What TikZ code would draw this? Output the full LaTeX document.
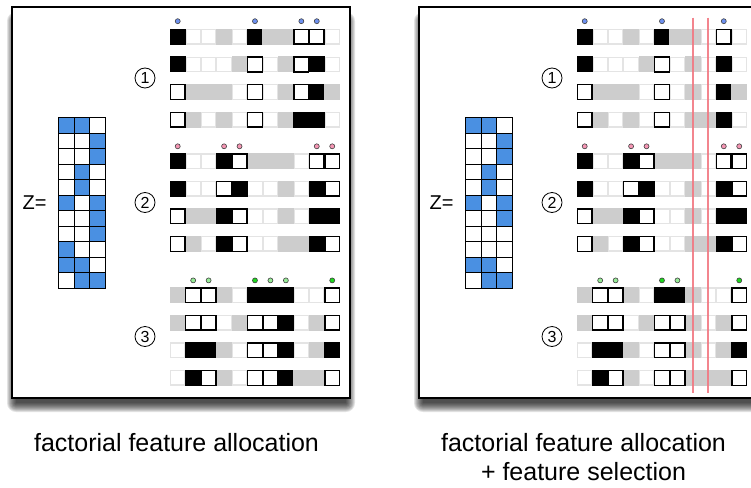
\documentclass[tikz,border=0pt]{standalone}
\usepackage{fontspec}
\setmainfont{Liberation Sans}
\definecolor{zblue}{RGB}{74,144,226}
\definecolor{dblue}{RGB}{110,145,240}
\definecolor{dpink}{RGB}{245,150,180}
\definecolor{dlgreen}{RGB}{150,235,150}
\definecolor{dgreen}{RGB}{30,215,30}
\definecolor{redline}{RGB}{242,120,130}
\definecolor{offgray}{RGB}{205,205,205}
\definecolor{offbg}{RGB}{228,228,228}
\tikzset{
 cbase/.style={rectangle, inner sep=0pt, outer sep=0pt, minimum width=16pt, minimum height=16pt},
 cellK/.style={cbase, fill=black},
 cellg/.style={cbase, fill=offgray},
 cello/.style={cbase, fill=white, minimum width=13.2pt, minimum height=13.2pt},
 cellW/.style={cbase, fill=white, draw=black, line width=1.4pt, minimum width=14.8pt, minimum height=14.8pt},
 zcell/.style={rectangle, inner sep=0pt, outer sep=0pt, minimum width=15.8pt, minimum height=15.5pt, draw=black, line width=1.1pt},
 z1/.style={zcell, fill=zblue},
 z0/.style={zcell, fill=white},
 dot/.style={circle, inner sep=0pt, minimum size=5pt, draw=black!75, line width=0.6pt},
 numc/.style={circle, draw=black, line width=0.8pt, minimum size=20pt, inner sep=0pt, font=\fontsize{16}{16}\selectfont},
 ztext/.style={inner sep=0pt, font=\fontsize{20}{20}\selectfont},
 captxt/.style={inner sep=0pt, font=\fontsize{25}{29}\selectfont},
 frame/.style={draw=black, line width=1.5pt, fill=white},
 redsel/.style={draw=redline, line width=2pt, opacity=0.9},
}
% #1 prefix, #2 x0, #3 y centre, #4 codes
\newcommand\featrow[4]{%
  \fill[offbg] (#2,#3-7.9) rectangle (#2+169.95,#3+7.9);
  \foreach \c [count=\i from 0] in {#4}{%
    \if W\c\else
      \node[cell\c] (#1-\i) at ({#2+7.725+15.45*\i},#3) {};
    \fi}%
  \foreach \c [count=\i from 0] in {#4}{%
    \if W\c
      \node[cellW] (#1-\i) at ({#2+7.725+15.45*\i},#3) {};
    \fi}%
}
% #1 prefix, #2 x0, #3 rows
\newcommand\zmat[3]{%
  \foreach \ra/\rb/\rc [count=\r from 0] in {#3}{%
    \node[z\ra] (#1-\r-0) at ({#2+7.9},{125.45+15.5*\r}) {};
    \node[z\rb] (#1-\r-1) at ({#2+23.7},{125.45+15.5*\r}) {};
    \node[z\rc] (#1-\r-2) at ({#2+39.5},{125.45+15.5*\r}) {};
  }%
}
% #1 prefix, #2 x0, #3 y, #4 col/colour list
\newcommand\featdots[4]{%
  \foreach \k/\col in {#4}{%
    \node[dot, fill=\col] (#1-\k) at ({#2+7.725+15.45*\k},#3) {};
  }%
}
\newcommand\shadowbox[4]{%
  \foreach \k in {0,...,9}{%
    \fill[black, opacity=0.11, rounded corners=\k pt] (#1+4-\k, #2+14-\k) rectangle (#3-4+\k, #4+5+\k);
  }%
}
\begin{document}
\begin{tikzpicture}[x=1pt,y=-1pt]
\useasboundingbox (0,0) rectangle (751,487);
\clip (0,0) rectangle (751,487);
% ---------- left panel ----------
\shadowbox{12}{7}{350}{398}
\draw[frame] (12,7) rectangle (350,398);
\node[ztext] (zl) at (34.5,202.5) {Z=};
\zmat{ZL}{58.3}{1/1/0,0/0/1,0/0/1,0/1/0,0/1/0,1/0/1,0/0/1,0/0/1,1/0/0,1/1/0,0/1/1}
\node[numc] (nl1) at (145,78) {1};
\node[numc] (nl2) at (145,202.5) {2};
\node[numc] (nl3) at (145,336.5) {3};
\featdots{DL1}{170}{21.2}{0/dblue,5/dblue,8/dblue,9/dblue}
\featrow{L11}{170}{36.8}{K,o,o,g,o,K,g,g,W,W,o}
\featrow{L12}{170}{64.4}{K,o,o,o,g,W,o,g,W,K,o}
\featrow{L13}{170}{92.0}{W,g,g,g,o,W,o,g,W,K,g}
\featrow{L14}{170}{119.6}{W,g,o,g,o,W,o,g,K,K,o}
\featdots{DL2}{170}{146.3}{0/dpink,3/dpink,4/dpink,9/dpink,10/dpink}
\featrow{L21}{170}{161.2}{K,o,o,K,W,g,g,g,o,W,W}
\featrow{L22}{170}{188.6}{K,o,o,W,K,o,o,g,o,K,W}
\featrow{L23}{170}{216.2}{W,g,g,K,W,o,o,g,o,K,K}
\featrow{L24}{170}{243.8}{W,g,o,K,W,o,o,g,g,K,W}
\featdots{DL3}{170}{280.4}{1/dlgreen,2/dlgreen,5/dgreen,6/dlgreen,7/dlgreen,10/dgreen}
\featrow{L31}{170}{295.2}{g,W,W,g,o,K,K,K,o,o,W}
\featrow{L32}{170}{322.6}{g,W,W,o,g,W,W,K,o,g,W}
\featrow{L33}{170}{350.2}{o,K,K,g,o,W,W,K,o,g,K}
\featrow{L34}{170}{377.8}{o,K,W,g,o,W,W,K,g,g,W}
\node[captxt, anchor=base] (capl) at (176.5,451.5) {factorial feature allocation};
% ---------- right panel ----------
\shadowbox{419}{7}{757}{398}
\draw[frame] (419,7) rectangle (757,398);
\node[ztext] (zr) at (441.5,202.5) {Z=};
\zmat{ZR}{465.3}{1/1/0,0/0/1,0/0/1,0/1/0,0/1/0,1/0/1,0/0/1,0/0/0,0/0/0,1/1/0,0/1/1}
\node[numc] (nr1) at (552,78) {1};
\node[numc] (nr2) at (552,202.5) {2};
\node[numc] (nr3) at (552,336.5) {3};
\featdots{DR1}{577}{21.2}{0/dblue,5/dblue,9/dblue}
\featrow{R11}{577}{36.8}{K,o,o,g,o,K,g,g,o,W,o}
\featrow{R12}{577}{64.4}{K,o,o,o,g,W,o,g,o,K,o}
\featrow{R13}{577}{92.0}{W,g,g,g,o,W,o,g,o,K,g}
\featrow{R14}{577}{119.6}{W,g,o,g,o,W,o,g,g,K,o}
\featdots{DR2}{577}{146.3}{0/dpink,3/dpink,4/dpink,9/dpink,10/dpink}
\featrow{R21}{577}{161.2}{K,o,o,K,W,g,g,g,o,W,W}
\featrow{R22}{577}{188.6}{K,o,o,W,K,o,o,g,o,K,W}
\featrow{R23}{577}{216.2}{W,g,g,K,W,o,o,g,o,K,K}
\featrow{R24}{577}{243.8}{W,g,o,K,W,o,o,g,g,K,W}
\featdots{DR3}{577}{280.4}{1/dlgreen,2/dlgreen,5/dgreen,6/dlgreen,10/dgreen}
\featrow{R31}{577}{295.2}{g,W,W,g,o,K,K,g,o,o,W}
\featrow{R32}{577}{322.6}{g,W,W,o,g,W,W,g,o,g,W}
\featrow{R33}{577}{350.2}{o,K,K,g,o,W,W,g,o,g,K}
\featrow{R34}{577}{377.8}{o,K,W,g,o,W,W,g,g,g,W}
\coordinate (ra1) at (692.9,17.7);
\coordinate (ra2) at (692.9,393);
\coordinate (rb1) at (708.4,17.7);
\coordinate (rb2) at (708.4,393);
\draw[redsel] (ra1) -- (ra2);
\draw[redsel] (rb1) -- (rb2);
\node[captxt, anchor=base] (capr1) at (583.5,451.5) {factorial feature allocation};
\node[captxt, anchor=base] (capr2) at (583.5,480.5) {+ feature selection};
\end{tikzpicture}
\end{document}
